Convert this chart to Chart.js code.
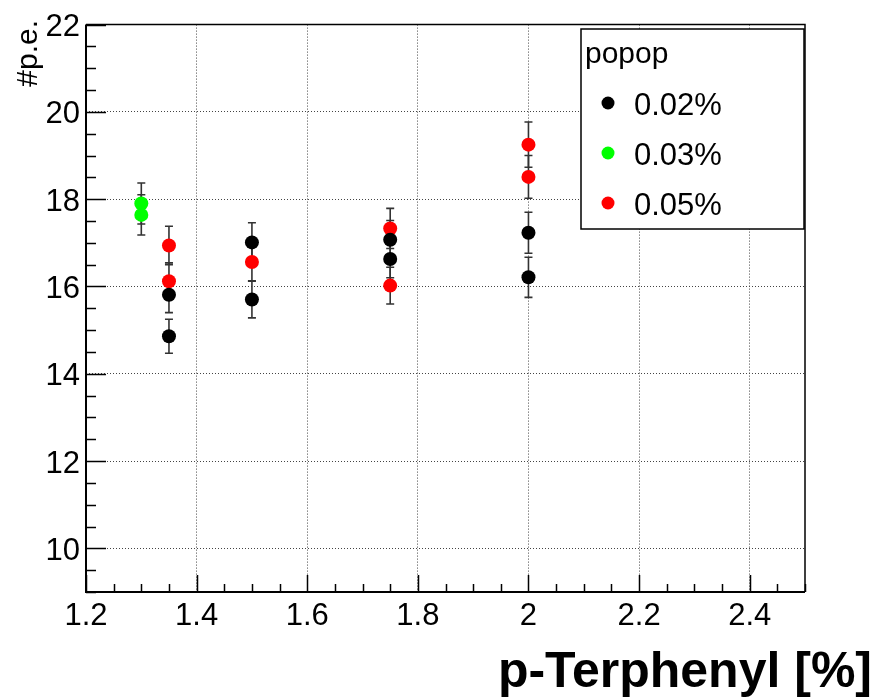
<!DOCTYPE html>
<html>
<head>
<meta charset="utf-8">
<script src="https://cdn.jsdelivr.net/npm/chart.js@4.4.1/dist/chart.umd.min.js"></script>
<style>
  html, body { margin: 0; padding: 0; background: #fff; }
  #wrap { width: 878px; height: 698px; }
</style>
</head>
<body>
<div id="wrap"><canvas id="chart" width="878" height="698"></canvas></div>
<script>
// values
const blackX = [1.35, 1.35, 1.5, 1.5, 1.75, 1.75, 2.0, 2.0];
const blackY = [15.81, 14.86, 17.01, 15.70, 17.07, 16.63, 17.23, 16.21];
const blackErr = [0.41, 0.39, 0.45, 0.42, 0.44, 0.43, 0.47, 0.46];

const greenX = [1.3, 1.3];
const greenY = [17.90, 17.64];
const greenErr = [0.47, 0.46];

const redX = [1.35, 1.35, 1.5, 1.75, 1.75, 2.0, 2.0];
const redY = [16.94, 16.12, 16.56, 17.33, 16.02, 19.25, 18.51];
const redErr = [0.44, 0.42, 0.43, 0.46, 0.42, 0.52, 0.49];

const seriesLabels = ['0.02%', '0.03%', '0.05%'];
const legendTitle = 'popop';
const xTicks = [1.2, 1.4, 1.6, 1.8, 2.0, 2.2, 2.4];
const yTicks = [10, 12, 14, 16, 18, 20, 22];
const xTitle = 'p-Terphenyl [%]';
const yTitle = '#p.e.';

const FONT = '"Liberation Sans", Arial, Helvetica, sans-serif';

function pts(xs, ys) {
    return xs.map((x, i) => ({x: x, y: ys[i]}));
}

// error bars drawn under the markers
const errorBars = {
    id: 'errorBars',
    beforeDatasetsDraw(chart) {
        const ctx = chart.ctx;
        const x = chart.scales.x, y = chart.scales.y;
        ctx.save();
        ctx.strokeStyle = '#333';
        ctx.lineWidth = 1.6;
        chart.data.datasets.forEach(ds => {
            ds.data.forEach((p, i) => {
                const px = x.getPixelForValue(p.x);
                const top = y.getPixelForValue(p.y + ds.errors[i]);
                const bot = y.getPixelForValue(p.y - ds.errors[i]);
                ctx.beginPath();
                ctx.moveTo(px, top); ctx.lineTo(px, bot);
                ctx.moveTo(px - 4, top); ctx.lineTo(px + 4, top);
                ctx.moveTo(px - 4, bot); ctx.lineTo(px + 4, bot);
                ctx.stroke();
            });
        });
        ctx.restore();
    }
};

// ROOT style frame, inward ticks, axis titles and legend box
const rootStyle = {
    id: 'rootStyle',
    afterDraw(chart) {
        const ctx = chart.ctx;
        const a = chart.chartArea;
        const x = chart.scales.x, y = chart.scales.y;
        ctx.save();
        ctx.strokeStyle = '#000';
        ctx.lineWidth = 1.5;
        ctx.beginPath();
        for (let v = 1.2; v <= 2.5001; v += 0.05) {
            const px = Math.round(x.getPixelForValue(v)) + 0.5;
            const major = Math.abs(v * 5 - Math.round(v * 5)) < 1e-6;
            ctx.moveTo(px, a.bottom);
            ctx.lineTo(px, a.bottom - (major ? 17 : 8));
        }
        for (let v = 9; v <= 22.001; v += 0.5) {
            const py = Math.round(y.getPixelForValue(v)) + 0.5;
            const major = v % 2 === 0;
            ctx.moveTo(a.left, py);
            ctx.lineTo(a.left + (major ? 20 : 10), py);
        }
        ctx.stroke();

        // frame
        ctx.lineWidth = 1.5;
        ctx.beginPath();
        ctx.moveTo(a.left, a.top); ctx.lineTo(a.right, a.top); ctx.lineTo(a.right, a.bottom);
        ctx.stroke();
        ctx.lineWidth = 2;
        ctx.beginPath();
        ctx.moveTo(a.left, a.top); ctx.lineTo(a.left, a.bottom); ctx.lineTo(a.right, a.bottom);
        ctx.stroke();

        // axis titles
        ctx.fillStyle = '#000';
        ctx.font = 'bold 50px ' + FONT;
        ctx.textAlign = 'right';
        ctx.textBaseline = 'alphabetic';
        ctx.fillText(xTitle, 872, 687);

        ctx.save();
        ctx.translate(37, 20);
        ctx.rotate(-Math.PI / 2);
        ctx.font = '30px ' + FONT;
        ctx.textAlign = 'right';
        ctx.fillText(yTitle, 0, 0);
        ctx.restore();

        // legend
        const lx = 581, ly = 29, lw = 223, lh = 200;
        ctx.fillStyle = '#fff';
        ctx.fillRect(lx, ly, lw, lh);
        ctx.lineWidth = 1.5;
        ctx.strokeStyle = '#000';
        ctx.strokeRect(lx, ly, lw, lh);
        ctx.fillStyle = '#000';
        ctx.textAlign = 'left';
        ctx.font = '30px ' + FONT;
        ctx.fillText(legendTitle, 585, 63);
        ctx.font = '31px ' + FONT;
        chart.data.datasets.forEach((ds, i) => {
            const cy = 103 + i * 50;
            ctx.fillStyle = ds.backgroundColor;
            ctx.beginPath();
            ctx.arc(608, cy, 6.5, 0, Math.PI * 2);
            ctx.fill();
            ctx.fillStyle = '#000';
            ctx.fillText(ds.label, 634, cy + 12);
        });
        ctx.restore();
    }
};

const context = document.querySelector('#chart').getContext('2d');

const chart = new Chart(context, {
    type: 'scatter',
    data: {
        datasets: [
            {label: seriesLabels[0], data: pts(blackX, blackY), errors: blackErr, backgroundColor: '#000000'},
            {label: seriesLabels[1], data: pts(greenX, greenY), errors: greenErr, backgroundColor: '#00ff00'},
            {label: seriesLabels[2], data: pts(redX, redY), errors: redErr, backgroundColor: '#ff0000'},
        ]
    },
    options: {
        responsive: false,
        animation: false,
        events: [],
        layout: {padding: {top: 22, right: 73, left: 0, bottom: 0}},
        elements: {point: {radius: 7, borderWidth: 0, hoverRadius: 7}},
        scales: {
            x: {
                type: 'linear',
                min: 1.2,
                max: 2.5,
                afterBuildTicks: s => { s.ticks = xTicks.map(v => ({value: v})); },
                afterFit: s => { s.height = 106; },
                ticks: {
                    autoSkip: false,
                    maxRotation: 0,
                    padding: 6,
                    color: '#000',
                    font: {family: FONT, size: 31},
                    callback: v => String(+v.toFixed(1)),
                },
                grid: {color: '#444', lineWidth: 1, drawTicks: false},
                border: {display: false, dash: [1, 2]},
            },
            y: {
                type: 'linear',
                min: 9,
                max: 22,
                afterBuildTicks: s => { s.ticks = yTicks.map(v => ({value: v})); },
                afterFit: s => { s.width = 86; },
                ticks: {
                    padding: 6,
                    labelOffset: 3,
                    color: '#000',
                    font: {family: FONT, size: 31},
                    callback: v => String(v),
                },
                grid: {color: '#444', lineWidth: 1, drawTicks: false},
                border: {display: false, dash: [1, 2]},
            },
        },
        plugins: {
            legend: {display: false},
            tooltip: {enabled: false},
        },
    },
    plugins: [errorBars, rootStyle],
});
</script>
</body>
</html>
